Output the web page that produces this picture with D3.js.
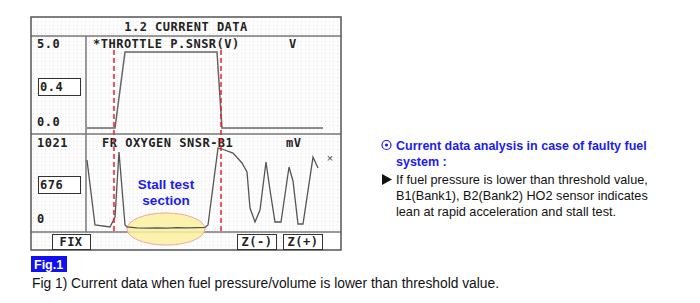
<!DOCTYPE html>
<html>
<head>
<meta charset="utf-8">
<script src="https://cdn.jsdelivr.net/npm/d3@7"></script>
<style>
  body { margin: 0; background: #fff; }
  .mono { font-family: "DejaVu Sans Mono", "Liberation Mono", monospace; font-weight: bold; font-size: 12px; letter-spacing: 0.5px; fill: #222; }
  .sans { font-family: "Liberation Sans", Arial, sans-serif; }
</style>
</head>
<body>
<svg id="chart" width="700" height="303"></svg>
<script>
// scan tool data: time in samples, throttle in V, oxygen sensor in mV
var throttleT = [0, 28, 38, 130, 135, 236];
var throttleV = [0.0, 0.0, 4.87, 4.87, 0.0, 0.0];

var oxygenT = [0, 8, 23, 28, 32, 38, 40, 50, 60, 70, 80, 90, 100, 110, 118, 121,
               131, 135, 146, 155, 160, 163, 168, 173, 179, 183, 188, 194, 202, 206, 211, 216, 226, 231];
var oxygenMv = [859, 50, 25, 149, 959, 50, 25, 15, 12, 14, 12, 16, 13, 18, 20, 50,
                1008, 996, 946, 822, 710, 261, 87, 237, 834, 486, 87, 87, 772, 598, 62, 62, 896, 759];

var markerT = [27, 134];   // red dashed cursors
var throttleTicks = ['5.0', '0.0'];
var oxygenTicks = ['1021', '0'];
var throttleNow = '0.4';
var oxygenNow = '676';
var buttons = ['FIX', 'Z(-)', 'Z(+)'];

var svg = d3.select('#chart');

var defs = svg.append('defs');
var pat = defs.append('pattern')
    .attr('id', 'dots')
    .attr('width', 4).attr('height', 4)
    .attr('patternUnits', 'userSpaceOnUse');
pat.append('rect').attr('width', 4).attr('height', 4).attr('fill', '#fdfdfd');
pat.append('rect').attr('x', 1).attr('y', 1).attr('width', 1).attr('height', 1).attr('fill', '#e4e4e4');

// panel frame
var px0 = 31, px1 = 341, py0 = 17, py1 = 250;
var headY = 36, midY = 134, btnY = 232, colX = 86;

svg.append('rect')
    .attr('x', px0).attr('y', py0)
    .attr('width', px1 - px0).attr('height', py1 - py0)
    .attr('fill', 'url(#dots)');

svg.append('rect')
    .attr('x', 323).attr('y', btnY)
    .attr('width', px1 - 323).attr('height', py1 - btnY)
    .attr('fill', '#fff');

var gridLines = [
  [px0, headY, px1, headY],
  [px0, midY, px1, midY],
  [px0, btnY, px1, btnY],
  [colX, headY, colX, btnY]
];
svg.selectAll('line.grid')
    .data(gridLines)
    .enter().append('line')
    .attr('class', 'grid')
    .attr('x1', function(d){return d[0];})
    .attr('y1', function(d){return d[1];})
    .attr('x2', function(d){return d[2];})
    .attr('y2', function(d){return d[3];})
    .attr('stroke', '#777')
    .attr('stroke-width', 1.5);

svg.append('rect')
    .attr('x', px0).attr('y', py0)
    .attr('width', px1 - px0).attr('height', py1 - py0)
    .attr('fill', 'none')
    .attr('stroke', '#555')
    .attr('stroke-width', 1.5);

svg.append('text')
    .attr('class', 'mono')
    .attr('x', (px0 + px1) / 2).attr('y', 31)
    .attr('text-anchor', 'middle')
    .text('1.2 CURRENT DATA');

// scales
var x = d3.scaleLinear().domain([0, 236]).range([87, 323]);
var yThr = d3.scaleLinear().domain([0, 5]).range([128, 50]);
var yOxy = d3.scaleLinear().domain([0, 1021]).range([229, 147]);

// titles of the two traces
svg.append('text').attr('class', 'mono').attr('x', 93).attr('y', 48).text('*THROTTLE P.SNSR(V)');
svg.append('text').attr('class', 'mono').attr('x', 289).attr('y', 48).text('V');
svg.append('text').attr('class', 'mono').attr('x', 102).attr('y', 147).text('FR OXYGEN SNSR-B1');
svg.append('text').attr('class', 'mono').attr('x', 286).attr('y', 147).text('mV');

// range labels
svg.append('text').attr('class', 'mono').attr('x', 37).attr('y', 48).text(throttleTicks[0]);
svg.append('text').attr('class', 'mono').attr('x', 37).attr('y', 126).text(throttleTicks[1]);
svg.append('text').attr('class', 'mono').attr('x', 37).attr('y', 147).text(oxygenTicks[0]);
svg.append('text').attr('class', 'mono').attr('x', 37).attr('y', 223).text(oxygenTicks[1]);

// current value boxes
var boxes = [
  {y: 78, label: throttleNow},
  {y: 176, label: oxygenNow}
];
var box = svg.selectAll('g.valbox')
    .data(boxes)
    .enter().append('g')
    .attr('class', 'valbox');
box.append('rect')
    .attr('x', 38.5).attr('y', function(d){return d.y + 0.5;})
    .attr('width', 42).attr('height', 17)
    .attr('fill', '#fff')
    .attr('stroke', '#333')
    .attr('stroke-width', 1);
box.append('text')
    .attr('class', 'mono')
    .attr('x', 40).attr('y', function(d){return d.y + 13;})
    .text(function(d){return d.label;});

// stall test ellipse (behind the trace)
svg.append('ellipse')
    .attr('cx', x(79)).attr('cy', 229)
    .attr('rx', 39).attr('ry', 16)
    .attr('fill', '#faf0a0')
    .attr('fill-opacity', 0.85)
    .attr('stroke', '#f4a6a0')
    .attr('stroke-width', 1);

// traces
var thrLine = d3.line()
    .x(function(d){return x(d[0]);})
    .y(function(d){return yThr(d[1]);});
svg.append('path')
    .datum(d3.zip(throttleT, throttleV))
    .attr('d', thrLine)
    .attr('fill', 'none')
    .attr('stroke', '#666')
    .attr('stroke-width', 1.5);

var oxyLine = d3.line()
    .x(function(d){return x(d[0]);})
    .y(function(d){return yOxy(d[1]);});
svg.append('path')
    .datum(d3.zip(oxygenT, oxygenMv))
    .attr('d', oxyLine)
    .attr('fill', 'none')
    .attr('stroke', '#555')
    .attr('stroke-width', 1.3);

svg.append('text')
    .attr('class', 'sans')
    .attr('x', 330).attr('y', 162)
    .attr('text-anchor', 'middle')
    .attr('font-size', 11)
    .attr('fill', '#444')
    .text('×');

// cursors
svg.selectAll('line.cursor')
    .data(markerT)
    .enter().append('line')
    .attr('class', 'cursor')
    .attr('x1', function(d){return x(d);})
    .attr('x2', function(d){return x(d);})
    .attr('y1', 50).attr('y2', 234)
    .attr('stroke', '#ee2222')
    .attr('stroke-width', 1.5)
    .attr('stroke-dasharray', '5,3');

svg.append('text')
    .attr('class', 'sans')
    .attr('x', x(79)).attr('font-size', 13.5).attr('font-weight', 'bold')
    .attr('fill', '#1c1cf0')
    .attr('text-anchor', 'middle')
    .selectAll('tspan')
    .data(['Stall test', 'section'])
    .enter().append('tspan')
    .attr('x', x(79))
    .attr('y', function(d, i){return 189 + i * 16;})
    .text(function(d){return d;});

// buttons
var btnX = [52, 237, 283];
var btn = svg.selectAll('g.btn')
    .data(buttons)
    .enter().append('g')
    .attr('class', 'btn');
btn.append('rect')
    .attr('x', function(d, i){return btnX[i] + 0.5;})
    .attr('y', 234.5)
    .attr('width', function(d, i){return i === 0 ? 38 : 39;})
    .attr('height', 15)
    .attr('fill', '#fff')
    .attr('stroke', '#333');
btn.append('text')
    .attr('class', 'mono')
    .attr('x', function(d, i){return btnX[i] + (i === 0 ? 19 : 20);})
    .attr('y', 246)
    .attr('text-anchor', 'middle')
    .text(function(d){return d;});

// figure label and caption
svg.append('rect')
    .attr('x', 31).attr('y', 256)
    .attr('width', 36).attr('height', 16)
    .attr('fill', '#1010f0');
svg.append('text')
    .attr('class', 'sans')
    .attr('x', 34).attr('y', 268.5)
    .attr('font-size', 12.5).attr('font-weight', 'bold')
    .attr('fill', '#fff')
    .text('Fig.1');
svg.append('text')
    .attr('class', 'sans')
    .attr('x', 32).attr('y', 288)
    .attr('font-size', 13.8)
    .attr('fill', '#111')
    .text('Fig 1) Current data when fuel pressure/volume is lower than threshold value.');

// side notes
svg.append('circle').attr('cx', 386.5).attr('cy', 145).attr('r', 4.5)
    .attr('fill', 'none').attr('stroke', '#1c1cf0').attr('stroke-width', 1.2);
svg.append('circle').attr('cx', 386.5).attr('cy', 145).attr('r', 1.6)
    .attr('fill', '#1c1cf0');

var headLines = ['Current data analysis in case of faulty fuel', 'system :'];
svg.append('g').selectAll('text')
    .data(headLines)
    .enter().append('text')
    .attr('class', 'sans')
    .attr('x', 396)
    .attr('y', function(d, i){return 150 + i * 16;})
    .attr('font-size', 12.5).attr('font-weight', 'bold')
    .attr('fill', '#1c1cf0')
    .text(function(d){return d;});

svg.append('path')
    .attr('d', 'M382,174 L392,179.5 L382,185 Z')
    .attr('fill', '#111');

var noteLines = ['If fuel pressure is lower than threshold value,',
                 'B1(Bank1), B2(Bank2) HO2 sensor indicates',
                 'lean at rapid acceleration and stall test.'];
svg.append('g').selectAll('text')
    .data(noteLines)
    .enter().append('text')
    .attr('class', 'sans')
    .attr('x', 396)
    .attr('y', function(d, i){return 184 + i * 16;})
    .attr('font-size', 12.7)
    .attr('fill', '#111')
    .text(function(d){return d;});
</script>
</body>
</html>
